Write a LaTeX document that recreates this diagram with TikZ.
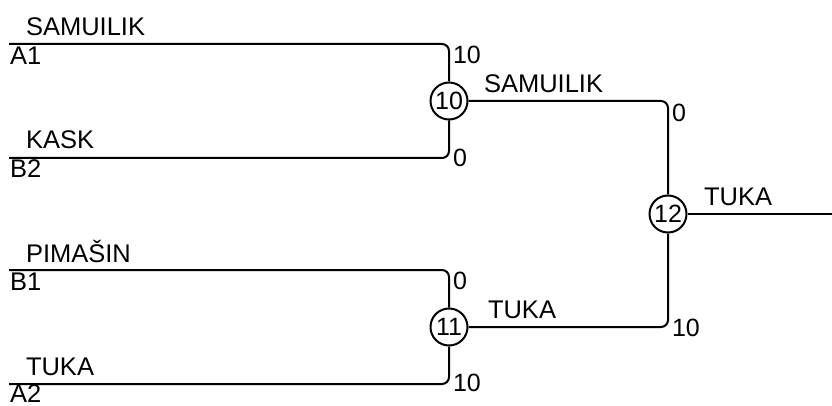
\documentclass[tikz,border=0pt]{standalone}
\usepackage{fontspec}
\setmainfont{Liberation Sans}
\usetikzlibrary{positioning,calc}

\begin{document}
\begin{tikzpicture}[x=1pt,y=-1pt,line width=2pt,
  match/.style={circle, draw, minimum size=37pt, inner sep=0pt, font=\fontsize{25}{25}\selectfont},
  team/.style={anchor=base west, inner sep=0pt, font=\fontsize{25.5}{25.5}\selectfont},
  score/.style={inner sep=0pt, font=\fontsize{25}{25}\selectfont},
  wire/.style={rounded corners=7pt}]
\useasboundingbox (0,0) rectangle (832,406);
\node (m10) at (449,101) [match] {10};
\node (m11) at (449,327) [match] {11};
\node (m12) at (668,214) [match] {12};
\coordinate (a1) at (9,44);
\coordinate (b2) at (9,158);
\coordinate (b1) at (9,270);
\coordinate (a2) at (9,384);
\coordinate (out) at (832,214);
\draw[wire] (a1) -| (m10);
\draw[wire] (b2) -| (m10);
\draw[wire] (b1) -| (m11);
\draw[wire] (a2) -| (m11);
\draw[wire] (m10) -| (m12);
\draw[wire] (m11) -| (m12);
\draw (m12) -- (out);
\node (t-a1) at (25,36) [team] {SAMUILIK};
\node (s-a1) at (9,65) [team] {A1};
\node (t-b2) at (25,149) [team] {KASK};
\node (s-b2) at (9,178) [team] {B2};
\node (t-b1) at (25,262) [team] {PIMAŠIN};
\node (s-b1) at (9,290) [team] {B1};
\node (t-a2) at (25,375) [team] {TUKA};
\node (s-a2) at (9,402) [team] {A2};
\node (w10) at (483,93) [team] {SAMUILIK};
\node (w11) at (487,318) [team] {TUKA};
\node (w12) at (703,205) [team] {TUKA};
\node (r-a1) at (452,45) [score, anchor=north west] {10};
\node (r-b2) at (452,158) [score, anchor=west] {0};
\node (r-b1) at (452,271) [score, anchor=north west] {0};
\node (r-a2) at (452,383) [score, anchor=west] {10};
\node (r-10) at (671,103) [score, anchor=north west] {0};
\node (r-11) at (671,328) [score, anchor=west] {10};
\end{tikzpicture}
\end{document}
